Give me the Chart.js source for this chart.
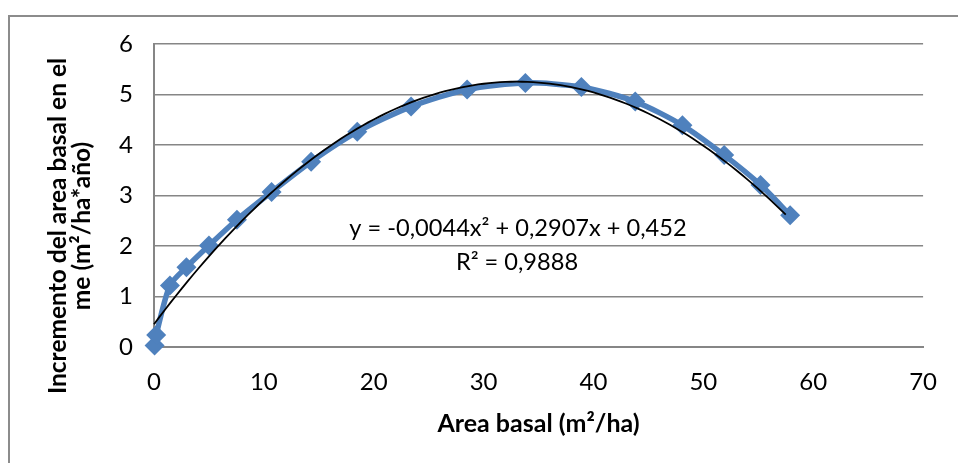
<!DOCTYPE html>
<html>
<head>
<meta charset="utf-8">
<script src="https://cdn.jsdelivr.net/npm/chart.js@4"></script>
<style>
  html, body { margin: 0; padding: 0; background: #ffffff; }
  #wrap { position: relative; width: 958px; height: 463px; overflow: hidden; }
  #frame { position: absolute; left: 8px; top: 15px; width: 1000px; height: 600px;
           border-left: 2px solid #8c8c8c; border-top: 2px solid #8c8c8c; box-sizing: border-box; }
  canvas { position: absolute; left: 0; top: 0; }
</style>
</head>
<body>
<div id="wrap">
  <div id="frame"></div>
  <canvas id="c" width="958" height="463"></canvas>
</div>
<script>
// ---- data ----
const areaBasal = [0.05, 0.2, 1.45, 2.95, 5.0, 7.55, 10.7, 14.3, 18.5, 23.4, 28.5, 33.8, 38.9, 43.8, 48.1, 51.9, 55.2, 57.9];
const incremento = [0.03, 0.24, 1.22, 1.58, 2.01, 2.52, 3.07, 3.67, 4.26, 4.76, 5.10, 5.23, 5.15, 4.86, 4.39, 3.80, 3.21, 2.61];
// trendline coefficients as printed on the chart: y = a x^2 + b x + c
const trendCoef = [-0.0044, 0.2907, 0.452];
const trendRange = [0, 57.9];
const xTicks = [0, 10, 20, 30, 40, 50, 60, 70];
const yTicks = [0, 1, 2, 3, 4, 5, 6];
const equationText = 'y = -0,0044x² + 0,2907x + 0,452';
const r2Text = 'R² = 0,9888';
const xTitle = 'Area basal (m²/ha)';
const yTitle = ['Incremento del area basal en el', 'me (m²/ha*año)'];

const seriesPts = areaBasal.map((x, i) => ({ x: x, y: incremento[i] }));
const trendPts = [];
for (let x = trendRange[0]; x <= trendRange[1] + 1e-9; x += 0.5) {
  trendPts.push({ x: x, y: trendCoef[0] * x * x + trendCoef[1] * x + trendCoef[2] });
}

const FONT = 'Lato, "Open Sans", sans-serif';

const textPlugin = {
  id: 'texts',
  afterDraw(chart) {
    const ctx = chart.ctx;
    ctx.save();
    ctx.fillStyle = '#000';
    ctx.textAlign = 'center';
    ctx.textBaseline = 'middle';
    ctx.font = '23.6px ' + FONT;
    ctx.fillText(equationText, 518, 228);
    ctx.fillText(r2Text, 517, 262);
    ctx.font = 'bold 24.5px ' + FONT;
    ctx.translate(58, 226);
    ctx.rotate(-Math.PI / 2);
    ctx.fillText(yTitle[0], 0, 0);
    ctx.fillText(yTitle[1], 0, 24);
    ctx.restore();
  }
};

new Chart(document.getElementById('c'), {
  type: 'line',
  data: {
    datasets: [
      {
        label: 'Polinómica',
        data: trendPts,
        borderColor: '#000000',
        borderWidth: 1.8,
        pointRadius: 0,
        tension: 0,
        fill: false,
        clip: false,
        order: 0
      },
      {
        label: 'Incremento',
        data: seriesPts,
        borderColor: '#4F81BD',
        backgroundColor: '#4F81BD',
        borderWidth: 5.5,
        pointStyle: 'rectRot',
        pointRadius: 10,
        pointBorderWidth: 0,
        pointBackgroundColor: '#4F81BD',
        tension: 0.25,
        fill: false,
        clip: false,
        order: 1
      }
    ]
  },
  options: {
    responsive: false,
    animation: false,
    events: [],
    layout: { padding: { left: 0, top: 44, right: 33, bottom: 0 } },
    plugins: { legend: { display: false }, tooltip: { enabled: false } },
    scales: {
      x: {
        type: 'linear',
        min: xTicks[0],
        max: xTicks[xTicks.length - 1],
        afterBuildTicks(s) { s.ticks = xTicks.map(v => ({ value: v })); },
        afterFit(s) { s.height = 116; },
        grid: { display: false, drawTicks: false },
        border: { display: true, color: '#868686', width: 2 },
        ticks: { color: '#000', font: { family: FONT, size: 24 }, padding: 21 },
        title: { display: true, text: xTitle, color: '#000',
                 font: { family: FONT, size: 25, weight: 'bold' }, padding: { bottom: 24 } }
      },
      y: {
        type: 'linear',
        min: yTicks[0],
        max: yTicks[yTicks.length - 1],
        afterBuildTicks(s) { s.ticks = yTicks.map(v => ({ value: v })); },
        afterFit(s) { s.width = 154; },
        grid: { color: '#868686', lineWidth: 1.5, drawTicks: false },
        border: { display: true, color: '#868686', width: 2 },
        ticks: { color: '#000', font: { family: FONT, size: 24 }, padding: 21 }
      }
    }
  },
  plugins: [textPlugin]
});
</script>
</body>
</html>
